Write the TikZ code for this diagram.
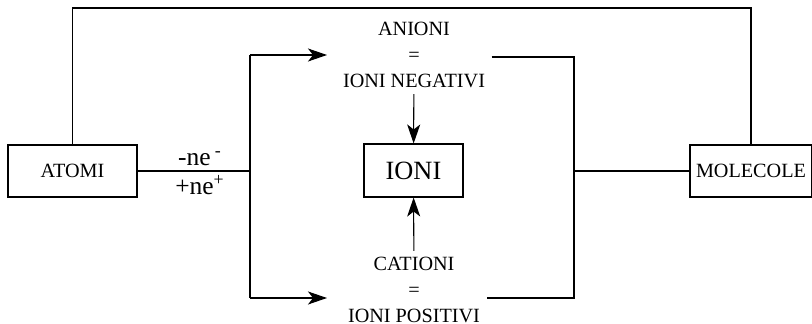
\documentclass[tikz,border=0pt]{standalone}
\usepackage{fontspec}
\setmainfont{Liberation Serif}
\usetikzlibrary{arrows.meta}
\begin{document}
\begin{tikzpicture}[x=0.02cm, y=-0.02cm, line width=0.6pt,
	box/.style={draw, rectangle, inner sep=0pt, minimum height=1.04cm, font=\fontsize{11.5}{14}\selectfont},
	txt/.style={align=center, inner sep=3.5pt, font=\fontsize{11.5}{14.6}\selectfont},
	charge/.style={inner sep=0.5pt, font=\fontsize{14.5}{17}\selectfont},
	arr/.style={-{Stealth[length=0.38cm, width=0.26cm, inset=0.1cm]}}]
	\useasboundingbox (0,0) rectangle (812,324);
	% boxes
	\node[box, minimum width=2.58cm] (atomi) at (72.5,171) {ATOMI};
	\node[box, minimum width=2.44cm] (molecole) at (751,171) {MOLECOLE};
	\node[box, minimum width=1.98cm, minimum height=1.06cm, font=\fontsize{15}{18}\selectfont] (ioni) at (413.5,170.5) {IONI};
	% texts
	\node[txt] (anioni) at (414,55) {ANIONI\\=\\IONI NEGATIVI};
	\node[txt] (cationi) at (414,290) {CATIONI\\=\\IONI POSITIVI};
	% corner points
	\coordinate (ceil) at (0,8);
	\coordinate (lt) at (250,55);
	\coordinate (lm) at (250,171);
	\coordinate (lb) at (250,298);
	\coordinate (at) at (327,55);
	\coordinate (ab) at (327,298);
	\coordinate (rt) at (574,57);
	\coordinate (rm) at (574,171);
	\coordinate (rb) at (574,298);
	% connectors
	\draw (atomi.north) -- (atomi.north |- ceil) -- (molecole.north |- ceil) -- (molecole.north);
	\draw (atomi) -- (lm);
	\node[charge, anchor=base] (meno) at (200,166) {-ne\,\textsuperscript{-}};
	\node[charge, anchor=north] (piu) at (200,174) {+ne\textsuperscript{+}};
	\draw (lt) -- (lb);
	\draw[arr] (lt) -- (at);
	\draw[arr] (lb) -- (ab);
	\draw (anioni.east |- rt) -- (rt) -- (rb) -- (cationi.east |- rb);
	\draw (rm) -- (molecole);
	\draw[arr] (anioni) -- (ioni);
	\draw[arr] (cationi) -- (ioni);
\end{tikzpicture}
\end{document}
